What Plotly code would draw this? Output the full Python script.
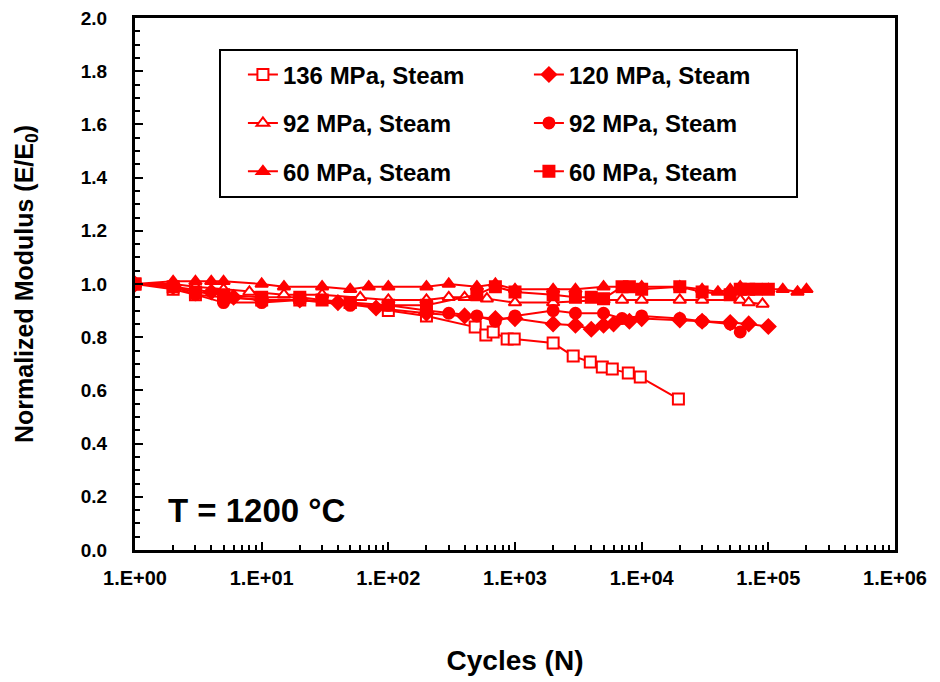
import plotly.graph_objects as go

# ---------------- data ----------------
n_136 = [1, 2, 3, 5, 10, 20, 50, 100, 200, 485, 589, 673, 867, 986, 2000, 2880, 3930, 4890, 5860, 7840, 9750, 19500]
e_136 = [1.0, 0.98, 0.96, 0.95, 0.94, 0.94, 0.93, 0.90, 0.88, 0.838, 0.808, 0.82, 0.793, 0.793, 0.778, 0.729, 0.707, 0.688, 0.680, 0.665, 0.650, 0.568]

n_120 = [1, 2, 4, 6, 10, 20, 40, 80, 200, 400, 700, 1000, 2000, 3000, 4000, 5000, 6000, 8000, 10000, 20000, 30000, 50000, 70000, 100000]
e_120 = [1.0, 0.99, 0.97, 0.95, 0.94, 0.94, 0.93, 0.91, 0.89, 0.88, 0.87, 0.87, 0.85, 0.845, 0.83, 0.845, 0.85, 0.86, 0.87, 0.865, 0.86, 0.855, 0.85, 0.84]

n_92o = [1, 2, 3, 5, 8, 15, 30, 60, 100, 200, 300, 400, 600, 1000, 2000, 5000, 7000, 10000, 20000, 30000, 60000, 70000, 90000]
e_92o = [1.0, 1.0, 0.99, 0.98, 0.97, 0.96, 0.96, 0.95, 0.94, 0.94, 0.95, 0.95, 0.945, 0.93, 0.93, 0.94, 0.94, 0.94, 0.94, 0.94, 0.94, 0.93, 0.925]

n_92c = [1, 2, 3, 5, 10, 20, 50, 100, 200, 300, 500, 700, 1000, 2000, 3000, 5000, 7000, 10000, 20000, 30000, 50000, 60000]
e_92c = [1.0, 0.99, 0.96, 0.93, 0.93, 0.94, 0.92, 0.92, 0.90, 0.89, 0.88, 0.86, 0.88, 0.90, 0.89, 0.89, 0.87, 0.88, 0.87, 0.86, 0.85, 0.82]

n_60t = [1, 2, 3, 4, 5, 10, 15, 30, 50, 70, 100, 200, 300, 500, 700, 1000, 2000, 3000, 5000, 10000, 20000, 30000, 40000, 50000, 60000, 100000, 130000, 170000, 200000]
e_60t = [1.0, 1.01, 1.01, 1.01, 1.01, 1.0, 0.99, 0.99, 0.98, 0.99, 0.99, 0.99, 1.0, 0.99, 1.0, 0.98, 0.98, 0.98, 0.99, 0.99, 0.99, 0.98, 0.97, 0.98, 0.99, 0.98, 0.98, 0.97, 0.98]

n_60s = [1, 2, 3, 5, 10, 20, 30, 50, 100, 200, 500, 700, 1000, 2000, 3000, 4000, 5000, 7000, 8000, 10000, 20000, 30000, 50000, 60000, 70000, 80000, 100000]
e_60s = [1.0, 0.99, 0.97, 0.96, 0.95, 0.95, 0.94, 0.93, 0.92, 0.92, 0.96, 0.99, 0.97, 0.96, 0.95, 0.95, 0.945, 0.99, 0.99, 0.98, 0.99, 0.97, 0.96, 0.98, 0.98, 0.98, 0.98]

x_tickvals = [1, 10, 100, 1000, 10000, 100000, 1000000]
x_ticktext = ["1.E+00", "1.E+01", "1.E+02", "1.E+03", "1.E+04", "1.E+05", "1.E+06"]

# (name, x, y, symbol, hollow, legend)
series = [
    ("136 MPa, Steam", n_136, e_136, "square", True, "legend"),
    ("120 MPa, Steam", n_120, e_120, "diamond", False, "legend"),
    ("92 MPa, Steam", n_92o, e_92o, "triangle-up", True, "legend2"),
    ("92 MPa, Steam", n_92c, e_92c, "circle", False, "legend2"),
    ("60 MPa, Steam", n_60t, e_60t, "triangle-up", False, "legend3"),
    ("60 MPa, Steam", n_60s, e_60s, "square", False, "legend3"),
]

RED = "#FF0000"
FONT = "Arial, 'Liberation Sans', sans-serif"

fig = go.Figure()
for name, xs, ys, sym, hollow, leg in series:
    fig.add_trace(go.Scatter(
        x=xs, y=ys, name=name, mode="lines+markers", legend=leg,
        line=dict(color=RED, width=2),
        marker=dict(symbol=sym, size=11, color="white" if hollow else RED,
                    line=dict(color=RED, width=2)),
    ))

legend_common = dict(
    orientation="h", xanchor="left", yanchor="middle",
    font=dict(family=FONT, size=24, color="black", weight="bold"),
    bgcolor="rgba(0,0,0,0)", borderwidth=0,
    entrywidth=241, entrywidthmode="pixels", itemwidth=30,
    tracegroupgap=0,
)

fig.update_layout(
    width=940, height=682,
    margin=dict(l=135, r=45, t=18, b=132),
    paper_bgcolor="white", plot_bgcolor="white",
    font=dict(family=FONT, size=20, color="black", weight="bold"),
    showlegend=True,
    legend=dict(x=0.142, y=0.893, **legend_common),
    legend2=dict(x=0.142, y=0.802, **legend_common),
    legend3=dict(x=0.142, y=0.711, **legend_common),
    xaxis=dict(
        type="log", range=[0, 6], automargin=False,
        tickvals=x_tickvals, ticktext=x_ticktext,
        ticks="inside", ticklen=8, tickwidth=2, tickcolor="black",
        minor=dict(ticks="inside", ticklen=5, tickwidth=1.5, tickcolor="black", dtick="D1"),
        showline=True, linewidth=3, linecolor="black", mirror=True,
        showgrid=False, zeroline=False,
        tickfont=dict(family=FONT, size=20, color="black", weight="bold"),
        ticklabelstandoff=8,
        title=dict(text="Cycles (N)", standoff=63,
                   font=dict(family=FONT, size=28, color="black", weight="bold")),
    ),
    yaxis=dict(
        range=[0, 2], dtick=0.2, tickformat=".1f", automargin=False,
        ticks="inside", ticklen=8, tickwidth=2, tickcolor="black",
        minor=dict(ticks="inside", ticklen=5, tickwidth=1.5, tickcolor="black", dtick=0.05),
        showline=True, linewidth=3, linecolor="black", mirror=True,
        showgrid=False, zeroline=False,
        tickfont=dict(family=FONT, size=19, color="black", weight="bold"),
        ticklabelstandoff=21,
        title=dict(text="Normalized Modulus (E/E<sub>0</sub>)", standoff=41,
                   font=dict(family=FONT, size=25, color="black", weight="bold")),
    ),
    shapes=[dict(type="rect", xref="paper", yref="paper",
                 x0=(220 - 135) / 760, x1=(797 - 135) / 760,
                 y0=(550 - 197) / 532, y1=(550 - 50) / 532,
                 line=dict(color="black", width=2), fillcolor="rgba(0,0,0,0)")],
    annotations=[dict(text="T = 1200 °C", xref="paper", yref="paper",
                      x=(166 - 135) / 760, y=(550 - 510) / 532,
                      xanchor="left", yanchor="middle", showarrow=False,
                      font=dict(family=FONT, size=33, color="black", weight="bold"))],
)

fig.write_html("out.html")
